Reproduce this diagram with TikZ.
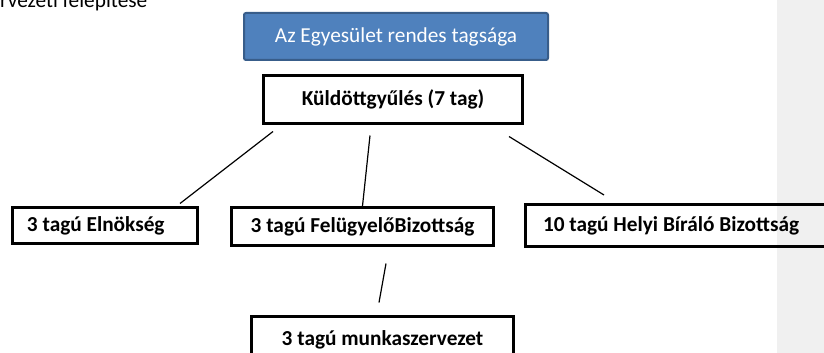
\documentclass[tikz,border=0pt]{standalone}
\usepackage{fontspec}
\setmainfont{Carlito}
\definecolor{bandgray}{RGB}{240,240,240}
\definecolor{tagfill}{RGB}{79,129,189}
\definecolor{tagline}{RGB}{56,93,138}
\begin{document}
\begin{tikzpicture}[x=1pt, y=-1pt,
        orgbox/.style={draw=black, line width=3pt, font=\bfseries, inner sep=0pt},
        tagbox/.style={draw=tagline, fill=tagfill, line width=2pt, rounded corners=2pt, text=white, inner sep=0pt},
        link/.style={line width=1.2pt}]
            \fontsize{21.3}{25}\selectfont
            \useasboundingbox (0,0) rectangle (824,353);
            \fill[bandgray] (777,0) rectangle (824,353);
            \node[anchor=base west, inner sep=0pt] (title) at (0,8) {rvezeti felépítése};
            \node[tagbox, minimum width=304pt, minimum height=47pt] (tag) at (396,36.5) {Az Egyesület rendes tagsága};
            \node[orgbox, minimum width=259pt, minimum height=48pt] (kuld) at (393,99.5) {Küldöttgyűlés (7 tag)};
            \node[orgbox, inner xsep=14.5pt, minimum height=36pt] (elnok) at (105,225.5) {\makebox[156pt][l]{3 tagú Elnökség}};
            \node[orgbox, minimum width=262pt, minimum height=38pt] (felugy) at (362.5,226.5) {3 tagú FelügyelőBizottság};
            \node[orgbox, inner xsep=17.5pt, minimum height=42pt] (helyi) at (677,225.5) {\makebox[268pt][l]{10 tagú Helyi Bíráló Bizottság}};
            \node[orgbox, minimum width=262pt, minimum height=47pt] (munka) at (382.5,340) {3 tagú munkaszervezet};
            \draw[link] ([xshift=-120pt, yshift=-6.5pt]kuld.south) -- ([xshift=75pt, yshift=2.5pt]elnok.north);
            \draw[link] ([xshift=-23pt, yshift=-10.5pt]kuld.south) -- (felugy.north);
            \draw[link] ([xshift=116pt, yshift=-11.5pt]kuld.south) -- ([xshift=-73pt, yshift=8pt]helyi.north);
            \draw[link] ([xshift=23.5pt, yshift=-16.5pt]felugy.south) -- ([xshift=-3.5pt, yshift=12.5pt]munka.north);
        \end{tikzpicture}
\end{document}
